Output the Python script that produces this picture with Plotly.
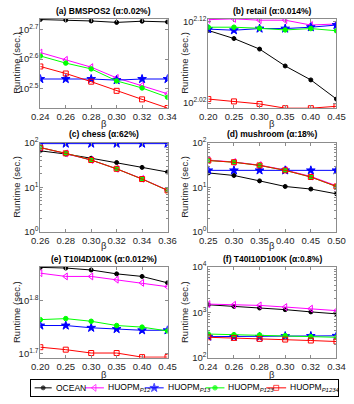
import plotly.graph_objects as go

# ---- data ----
beta_a = [0.24, 0.26, 0.28, 0.30, 0.32, 0.34]
ocean_a = [542, 540, 536, 530, 535, 532]
p12_a = [419, 396, 374, 344, 324, 304]
p13_a = [341, 341, 341, 338, 341, 341]
p123_a = [408, 386, 369, 336, 318, 296]
p1234_a = [376, 356, 334, 311, 291, 272]

beta_b = [0.20, 0.25, 0.30, 0.35, 0.40, 0.45]
ocean_b = [128.6, 125.7, 122.0, 116.3, 111.8, 105.9]
p12_b = [132.6, 132.9, 132.4, 132.4, 130.6, 131.0]
p13_b = [129.1, 128.7, 129.3, 129.3, 129.8, 130.6]
p123_b = [129.8, 129.8, 129.4, 128.8, 129.3, 128.5]
p1234_b = [105.9, 105.2, 104.45, 103.2, 103.2, 103.75]

beta_c = [0.26, 0.28, 0.30, 0.32, 0.34, 0.36]
ocean_c = [66, 56, 45, 36, 28, 22]
p12_c = [79, 58, 41, 26, 15.5, 8.6]
p13_c = [96, 96, 96, 96, 96, 96]
p123_c = [78, 58, 41, 26, 15.3, 8.5]
p1234_c = [78, 58, 41, 26, 15.3, 8.5]

beta_d = [0.25, 0.30, 0.35, 0.40, 0.45, 0.50]
ocean_d = [21, 18.4, 13.9, 10.4, 9.1, 7.1]
p12_d = [41, 37, 31.5, 24.5, 17.5, 10.8]
p13_d = [24, 24, 24, 24, 24, 24]
p123_d = [40, 36.6, 31, 24, 17, 10.4]
p1234_d = [40, 36.6, 31, 24, 17, 10.4]

beta_e = [0.20, 0.25, 0.30, 0.35, 0.40, 0.45]
ocean_e = [72.94, 72.73, 72.11, 70.91, 70.12, 68.19]
p12_e = [71.12, 70.12, 70.12, 69.13, 68.19, 67.05]
p13_e = [56.62, 56.62, 56.07, 55.76, 55.46, 55.46]
p123_e = [58.09, 58.35, 57.68, 56.62, 56.23, 55.30]
p1234_e = [51.52, 50.97, 50.23, 50.23, 49.34, 49.34]

beta_f = [0.24, 0.26, 0.28, 0.30, 0.32, 0.34]
ocean_f = [1472, 1358, 1250, 1151, 1026, 929]
p12_f = [1524, 1472, 1426, 1313, 1209, 1094]
p13_f = [292, 292, 290, 300, 302, 305]
p123_f = [333, 323, 318, 307, 292, 283]
p1234_f = [283, 274, 261, 252, 240, 228]

titles = [
    "(a) BMSPOS2 (α:0.02%)", "(b) retail (α:0.014%)",
    "(c) chess (α:62%)", "(d) mushroom (α:18%)",
    "(e) T10I4D100K (α:0.012%)", "(f) T40I10D100K (α:0.8%)",
]
series_names = ["OCEAN", "HUOPM<sub><i>P12</i></sub>", "HUOPM<sub><i>P13</i></sub>",
                "HUOPM<sub><i>P123</i></sub>", "HUOPM<sub><i>P1234</i></sub>"]

# y ticks (log10 exponents) and y ranges per panel
ytick_exp = [[2.5, 2.6, 2.7], [2.02, 2.12], [0, 1, 2], [0, 1, 2], [1.7, 1.8], [2, 3, 4]]
ytick_lbl = [["2.5", "2.6", "2.7"], ["2.02", "2.12"], ["0", "1", "2"], ["0", "1", "2"],
             ["1.7", "1.8"], ["2", "3", "4"]]
yranges = [[2.435, 2.737], [2.014, 2.1238], [0, 2], [0, 2], [1.692, 1.8636], [2, 4]]

panels = [
    (beta_a, [ocean_a, p12_a, p13_a, p123_a, p1234_a]),
    (beta_b, [ocean_b, p12_b, p13_b, p123_b, p1234_b]),
    (beta_c, [ocean_c, p12_c, p13_c, p123_c, p1234_c]),
    (beta_d, [ocean_d, p12_d, p13_d, p123_d, p1234_d]),
    (beta_e, [ocean_e, p12_e, p13_e, p123_e, p1234_e]),
    (beta_f, [ocean_f, p12_f, p13_f, p123_f, p1234_f]),
]

# ---- styles ----
W, H = 354, 404
FONT = "Liberation Sans, Arial, sans-serif"
AXIS_GRAY = "#8c8c8c"
TEXT = "#262626"
STYLES = [
    dict(color="#000000", symbol="circle", size=4),
    dict(color="#ff00ff", symbol="triangle-left-open", size=6),
    dict(color="#0000ff", symbol="star", size=6.5),
    dict(color="#00ff00", symbol="circle", size=4.5),
    dict(color="#ff0000", symbol="square-open", size=5),
]
COLS_PX = [(33, 167), (210, 345)]
ROWS_PX = [(12, 104), (140, 231.5), (268, 361.5)]
TITLE_Y = [4.5, 131, 260]
BETA_Y = [120, 246, 379]


def px_x(p):
    return p / W


def px_y(p):
    return 1 - p / H


fig = go.Figure()
annotations = []

for i, (beta, ys) in enumerate(panels):
    r, c = divmod(i, 2)
    n = i + 1
    xa = "x" if n == 1 else f"x{n}"
    ya = "y" if n == 1 else f"y{n}"
    for st, y in zip(STYLES, ys):
        fig.add_trace(go.Scatter(
            x=beta, y=y, mode="lines+markers", xaxis=xa, yaxis=ya,
            showlegend=False,
            line=dict(color=st["color"], width=1),
            marker=dict(symbol=st["symbol"], size=st["size"], color=st["color"],
                        line=dict(width=1, color=st["color"])),
        ))
    x0, x1 = COLS_PX[c]
    y0, y1 = ROWS_PX[r]
    minor = None
    if ytick_exp[i] == [0, 1, 2] or ytick_exp[i] == [2, 3, 4]:
        base = ytick_exp[i][0]
        minor = dict(ticks="inside", ticklen=2, tickcolor=AXIS_GRAY, showgrid=False,
                     tickvals=[k * 10 ** e for e in range(base, base + 2) for k in range(2, 10)])
    fig.update_layout(**{
        ("xaxis" if n == 1 else f"xaxis{n}"): dict(
            domain=[px_x(x0), px_x(x1)], anchor=ya, range=[beta[0], beta[-1]],
            tickvals=beta, ticktext=[f"{b:.2f}" for b in beta],
            showline=True, mirror="ticks", linecolor=AXIS_GRAY, linewidth=1,
            ticks="inside", ticklen=3, tickcolor=AXIS_GRAY, showgrid=False, zeroline=False,
            tickfont=dict(size=9.5, color=TEXT, family=FONT), ticklabelstandoff=0,
        ),
        ("yaxis" if n == 1 else f"yaxis{n}"): dict(
            domain=[px_y(y1), px_y(y0)], anchor=xa, type="log", range=yranges[i],
            tickvals=[10 ** e for e in ytick_exp[i]],
            ticktext=[f"10<sup>{t}</sup>" for t in ytick_lbl[i]],
            showline=True, mirror="ticks", linecolor=AXIS_GRAY, linewidth=1,
            ticks="inside", ticklen=3, tickcolor=AXIS_GRAY, showgrid=False, zeroline=False,
            tickfont=dict(size=9.5, color=TEXT, family=FONT), minor=minor,
            ticklabelstandoff=-1,
        ),
    })
    cx = (x0 + x1) / 2
    annotations.append(dict(text=f"<b>{titles[i]}</b>", x=px_x(cx), y=px_y(TITLE_Y[r]),
                            xref="paper", yref="paper", showarrow=False,
                            xanchor="center", yanchor="middle",
                            font=dict(size=8.5, color="#000000", family=FONT)))
    annotations.append(dict(text="β", x=px_x(cx), y=px_y(BETA_Y[r]),
                            xref="paper", yref="paper", showarrow=False,
                            xanchor="center", yanchor="middle",
                            font=dict(size=9.5, color=TEXT, family=FONT)))
    annotations.append(dict(text="Runtime (sec.)", x=px_x(x0 - 25), y=px_y((y0 + y1) / 2),
                            xref="paper", yref="paper", showarrow=False, textangle=-90,
                            xanchor="center", yanchor="middle",
                            font=dict(size=9.5, color=TEXT, family=FONT)))

# ---- legend drawn on a helper axis (pixel units) ----
LEG_X = (23, 347)
LEG_Y = (384, 401)
KEY_LINE = [(27, 45), (80, 100), (143, 163), (207, 227), (271, 292)]
for st, (k0, k1) in zip(STYLES, KEY_LINE):
    fig.add_trace(go.Scatter(
        x=[k0, (k0 + k1) / 2, k1], y=[0.5, 0.5, 0.5], mode="lines+markers",
        xaxis="x7", yaxis="y7", showlegend=False, hoverinfo="skip", cliponaxis=False,
        line=dict(color=st["color"], width=1),
        marker=dict(symbol=st["symbol"], size=[0, st["size"], 0], color=st["color"],
                    line=dict(width=1, color=st["color"])),
    ))
for name, (k0, k1) in zip(series_names, KEY_LINE):
    annotations.append(dict(text=name, x=k1 + 2, y=0.5, xref="x7", yref="y7",
                            showarrow=False, xanchor="left", yanchor="middle",
                            font=dict(size=8.5, color="#000000", family=FONT)))

fig.update_layout(
    xaxis7=dict(domain=[px_x(LEG_X[0]), px_x(LEG_X[1])], range=list(LEG_X), anchor="y7",
                showline=True, mirror=True, linecolor="#000000", linewidth=1,
                showticklabels=False, ticks="", showgrid=False, zeroline=False, fixedrange=True),
    yaxis7=dict(domain=[px_y(LEG_Y[1]), px_y(LEG_Y[0])], range=[0, 1], anchor="x7",
                showline=True, mirror=True, linecolor="#000000", linewidth=1,
                showticklabels=False, ticks="", showgrid=False, zeroline=False, fixedrange=True),
    annotations=annotations,
    width=W, height=H, autosize=False,
    margin=dict(l=0, r=0, t=0, b=0, pad=0),
    paper_bgcolor="white", plot_bgcolor="white",
    font=dict(family=FONT, color=TEXT),
    showlegend=False,
)

# the page's default 8px body margin would push the figure off the window
fig.write_html("out.html", config={"displayModeBar": False},
               post_script="document.body.style.margin = '0';")
